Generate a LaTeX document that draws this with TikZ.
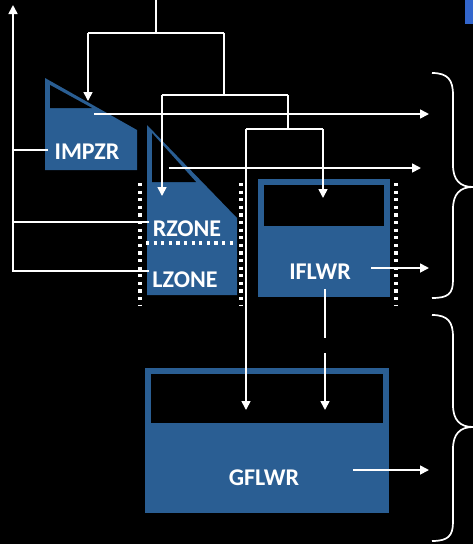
\documentclass[tikz,border=0pt]{standalone}
\usepackage{fontspec}
\setmainfont{Carlito}
\usetikzlibrary{arrows.meta}
\definecolor{tankblue}{HTML}{2A5E93}
\definecolor{markblue}{HTML}{3366CC}
\tikzset{
  wire/.style={draw=white, line width=1.7pt},
  arr/.style={wire, -{Triangle[width=9pt,length=9pt]}},
  tank/.style={fill=tankblue, draw=none},
  hole/.style={fill=black, draw=none},
  dots/.style={draw=white, line width=3.2pt, dash pattern=on 3.2pt off 4.4pt},
  lbl/.style={text=white, font=\fontsize{24}{28}\selectfont\bfseries, inner sep=0pt},
  bracestyle/.style={draw=white, line width=1.7pt}
}
\begin{document}
\begin{tikzpicture}[x=1pt, y=-1pt]
\fill[black] (0,0) rectangle (473,544);
\useasboundingbox (0,0) rectangle (473,544);
\fill[markblue] (465,0) rectangle (473,24);

% IMPZR tank
\path[tank] (45,78) -- (137,130) -- (137,170) -- (45,170) -- cycle;
\path[hole] (50,85) -- (92,108) -- (50,108) -- cycle;
\node[lbl] (impzr) at (87,152) {IMPZR};

% RZONE / LZONE tank
\path[tank] (147,125) -- (237,218) -- (237,295) -- (147,295) -- cycle;
\path[hole] (152,133) -- (196,182) -- (152,182) -- cycle;
\node[lbl] (rzone) at (187,229) {RZONE};
\node[lbl] (lzone) at (185,280) {LZONE};
\draw[dots] (146,243) -- (237,243);
\draw[dots] (140,183) -- (140,306);
\draw[dots] (241,183) -- (241,306);

% IFLWR tank
\path[tank] (258,179) rectangle (390,297);
\path[hole] (264,185) rectangle (384,226);
\node[lbl] (iflwr) at (320,272) {IFLWR};
\draw[dots] (396,183) -- (396,306);

% GFLWR tank
\path[tank] (145,368) rectangle (389,513);
\path[hole] (151,374) rectangle (383,423);
\node[lbl] (gflwr) at (264,478) {GFLWR};

% coordinates
\coordinate (in) at (156,0);
\coordinate (j1) at (156,33);
\coordinate (j1l) at (88,33);
\coordinate (j1r) at (224,33);
\coordinate (impzrIn) at (88,101);
\coordinate (j2) at (224,95);
\coordinate (j2l) at (162,95);
\coordinate (j2r) at (288,95);
\coordinate (rzoneIn) at (162,196);
\coordinate (j3) at (288,129);
\coordinate (j3l) at (246,129);
\coordinate (j3r) at (323,129);
\coordinate (iflwrIn) at (323,198);
\coordinate (gIn1) at (246,410);
\coordinate (iOut) at (325,289);
\coordinate (iOutEnd) at (325,338);
\coordinate (gIn2s) at (325,353);
\coordinate (gIn2) at (325,410);

% inflow distribution
\draw[wire] (in) -- (j1);
\draw[wire] (j1l) -- (j1r);
\draw[arr] (j1l) -- (impzrIn);
\draw[wire] (j1r) -- (j2);
\draw[wire] (j2l) -- (j2r);
\draw[arr] (j2l) -- (rzoneIn);
\draw[wire] (j2r) -- (j3);
\draw[wire] (j3l) -- (j3r);
\draw[arr] (j3r) -- (iflwrIn);
\draw[arr] (j3l) -- (gIn1);
\draw[wire] (iOut) -- (iOutEnd);
\draw[arr] (gIn2s) -- (gIn2);

% left return
\coordinate (lb) at (13,271);
\coordinate (ltop) at (13,5);
\draw[arr] (lb) -- (ltop);
\draw[wire] (13,150) -- (48,150);
\draw[wire] (13,222) -- (149,222);
\draw[wire] (12.2,271) -- (149,271);

% right outputs
\draw[arr] (94,114) -- (429,114);
\draw[arr] (169,168) -- (421,168);
\draw[arr] (371,268) -- (429,268);
\draw[arr] (353,470) -- (429,470);

% braces
\draw[bracestyle] (432,73) .. controls (448,73) and (453,80) .. (453,95) -- (453,165)
  .. controls (453,180) and (460,187) .. (473,187)
  .. controls (460,187) and (453,194) .. (453,209) -- (453,280)
  .. controls (453,294) and (448,298) .. (432,298);
\draw[bracestyle] (432,315) .. controls (448,315) and (453,322) .. (453,337) -- (453,405)
  .. controls (453,420) and (460,427) .. (473,427)
  .. controls (460,427) and (453,434) .. (453,449) -- (453,522)
  .. controls (453,536) and (448,541) .. (432,541);
\end{tikzpicture}
\end{document}
